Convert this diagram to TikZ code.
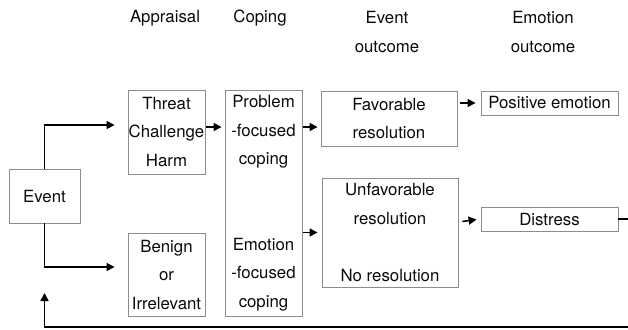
\documentclass[tikz,border=0pt]{standalone}
\usepackage{fontspec}
\setmainfont{TeX Gyre Heros}
\usepackage{xcolor}
\usepackage{tikz}
\usetikzlibrary{positioning, arrows.meta, calc}
\definecolor{boxline}{RGB}{140,140,140}
\definecolor{inktext}{RGB}{10,10,10}

\begin{document}
\begin{tikzpicture}[
        x=1pt, y=-1pt,
        box/.style={draw=boxline, line width=0.9pt, rectangle, inner sep=0pt, align=center, text=inktext, font=\fontsize{16.8}{28.5}\selectfont},
        head/.style={align=center, text=inktext, font=\fontsize{16.8}{29}\selectfont},
        arr/.style={-{Triangle[length=8pt, width=8pt]}, line width=1.6pt}
    ]
    \useasboundingbox (0,0) rectangle (628,329);

    % column headings
    \node[head] (happr) at (165,18) {Appraisal};
    \node[head] (hcope) at (260,18) {Coping};
    \node[head] (hevent) at (387,32.5) {Event\\outcome};
    \node[head] (hemo) at (543,32.5) {Emotion\\outcome};

    % boxes
    \node[box, minimum width=71pt, minimum height=54pt] (event) at (44.5,196) {Event};
    \node[box, minimum width=77pt, minimum height=84pt] (threat) at (166.5,132) {Threat\\Challenge\\Harm};
    \node[box, minimum width=77pt, minimum height=83pt] (benign) at (166.5,274.5) {Benign\\or\\Irrelevant};
    \node[box, minimum width=77pt, minimum height=226pt] (coping) at (263.5,203) {Problem\\-focused\\coping\\[57pt]Emotion\\-focused\\coping};
    \node[box, minimum width=136pt, minimum height=55pt] (favor) at (389,118.5) {Favorable\\resolution};
    \node[box, minimum width=136pt, minimum height=109pt] (unfavor) at (390,232.5) {Unfavorable\\resolution\\[28.5pt]No resolution};
    \node[box, minimum width=137pt, minimum height=24pt] (posemo) at (549.5,103) {Positive emotion};
    \node[box, minimum width=137pt, minimum height=24pt] (distress) at (549.5,219) {Distress};

    % connectors
    \draw[arr, shorten >=13pt] (event.north) |- ([yshift=7pt]threat.west);
    \draw[arr, shorten >=13pt] (event.south) |- ([yshift=7.5pt]benign.west);
    \draw[arr, shorten <=1pt, shorten >=3pt] ([yshift=5pt]threat.east) -- ([yshift=5pt]threat.east -| coping.west);
    \draw[arr, shorten <=1pt, shorten >=3pt] ([yshift=-8.5pt]favor.west -| coping.east) -- ([yshift=-8.5pt]favor.west);
    \draw[arr, shorten <=1pt, shorten >=4pt] (unfavor.west -| coping.east) -- (unfavor.west);
    \draw[arr, shorten <=3pt, shorten >=5pt] (favor.east |- posemo.west) -- (posemo.west);
    \draw[arr, shorten <=4pt, shorten >=4pt] ([yshift=-3pt]unfavor.east |- distress.west) -- (distress.west);

    % feedback loop
    \coordinate (loopr) at (632,327);
    \coordinate (loopl) at (44.5,293);
    \draw[arr] (distress.east) -| (loopr) -| (loopl);

\end{tikzpicture}
\end{document}
